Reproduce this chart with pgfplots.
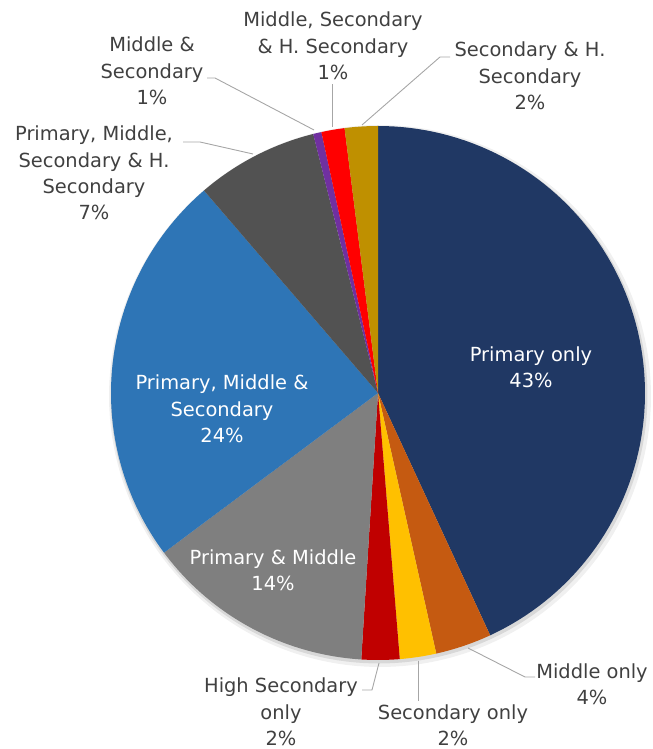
\documentclass[border=0pt]{standalone}
\usepackage{pgfplots}
\pgfplotsset{compat=1.18}
\usepackage{fontspec}
\setmainfont{DejaVu Sans}
\definecolor{cNavy}{HTML}{203864}
\definecolor{cOrange}{HTML}{C55A11}
\definecolor{cYellow}{HTML}{FFC000}
\definecolor{cDRed}{HTML}{C00000}
\definecolor{cGray}{HTML}{7F7F7F}
\definecolor{cBlue}{HTML}{2E75B6}
\definecolor{cDGray}{HTML}{525252}
\definecolor{cPurple}{HTML}{7030A0}
\definecolor{cRed}{HTML}{FF0000}
\definecolor{cGold}{HTML}{BF9000}
\definecolor{txt}{HTML}{404040}
\definecolor{lead}{HTML}{A6A6A6}
% shares in percent, clockwise from 12 o'clock
\def\vA{43.1}% Primary only
\def\vB{3.4}% Middle only
\def\vC{2.2}% Secondary only
\def\vD{2.3}% High Secondary only
\def\vE{13.8}% Primary & Middle
\def\vF{23.9}% Primary, Middle & Secondary
\def\vG{7.4}% Primary, Middle, Secondary & H. Secondary
\def\vH{0.5}% Middle & Secondary
\def\vI{1.4}% Middle, Secondary & H. Secondary
\def\vJ{2.0}% Secondary & H. Secondary
\def\cx{378}
\def\cy{356}
\def\rr{267}
\newcommand{\slice}[3]{%
  \addplot[fill=#3, draw=none, domain=#1:#2, samples=90, variable=\t]
    ({\cx+\rr*sin(\t)},{\cy+\rr*cos(\t)}) -- (axis cs:\cx,\cy) -- cycle;}
\tikzset{lbl/.style={font=\fontsize{19.5}{26.5}\selectfont, align=center, text=txt, inner sep=0pt}}
\begin{document}%
\pgfmathsetmacro\aA{0}%
\pgfmathsetmacro\aB{\aA+3.6*\vA}%
\pgfmathsetmacro\aC{\aB+3.6*\vB}%
\pgfmathsetmacro\aD{\aC+3.6*\vC}%
\pgfmathsetmacro\aE{\aD+3.6*\vD}%
\pgfmathsetmacro\aF{\aE+3.6*\vE}%
\pgfmathsetmacro\aG{\aF+3.6*\vF}%
\pgfmathsetmacro\aH{\aG+3.6*\vG}%
\pgfmathsetmacro\aI{\aH+3.6*\vH}%
\pgfmathsetmacro\aJ{\aI+3.6*\vI}%
\pgfmathsetmacro\aK{\aJ+3.6*\vJ}%
\begin{tikzpicture}
\begin{axis}[
  hide axis, scale only axis, width=653bp, height=749bp,
  xmin=0, xmax=653, ymin=0, ymax=749, clip=false,
]
\addplot[draw=none, forget plot] coordinates {(0,0) (653,749)};
% soft shadow
\addplot[fill=black, fill opacity=0.06, draw=none, domain=0:360, samples=180, variable=\t]
  ({\cx+2+(\rr+4)*sin(\t)},{\cy-3+(\rr+4)*cos(\t)}) -- cycle;
\addplot[fill=black, fill opacity=0.10, draw=none, domain=0:360, samples=180, variable=\t]
  ({\cx+1+(\rr+1.5)*sin(\t)},{\cy-2+(\rr+1.5)*cos(\t)}) -- cycle;
\slice{\aA}{\aB}{cNavy}
\slice{\aB}{\aC}{cOrange}
\slice{\aC}{\aD}{cYellow}
\slice{\aD}{\aE}{cDRed}
\slice{\aE}{\aF}{cGray}
\slice{\aF}{\aG}{cBlue}
\slice{\aG}{\aH}{cDGray}
\slice{\aH}{\aI}{cPurple}
\slice{\aI}{\aJ}{cRed}
\slice{\aJ}{\aK}{cGold}
% inside labels
\node[lbl, text=white] at (axis cs:531,382) {Primary only\\43\%};
\node[lbl, text=white] at (axis cs:222,340) {Primary, Middle \&\\Secondary\\24\%};
\node[lbl, text=white] at (axis cs:273,179) {Primary \& Middle\\14\%};
% leader lines
\draw[lead, line width=0.9pt] (axis cs:468,101) -- (axis cs:525,72) -- (axis cs:535,72);
\draw[lead, line width=0.9pt] (axis cs:418,88) -- (axis cs:418,48);
\draw[lead, line width=0.9pt] (axis cs:379,86) -- (axis cs:372,59) -- (axis cs:362,59);
\draw[lead, line width=0.9pt] (axis cs:314,619) -- (axis cs:215,671) -- (axis cs:207,671);
\draw[lead, line width=0.9pt] (axis cs:253,595) -- (axis cs:200,607) -- (axis cs:183,607);
\draw[lead, line width=0.9pt] (axis cs:332,622) -- (axis cs:332,665);
\draw[lead, line width=0.9pt] (axis cs:362,624) -- (axis cs:440,692) -- (axis cs:450,692);
% outside labels
\node[lbl] at (axis cs:592,64.5) {Middle only\\4\%};
\node[lbl] at (axis cs:453,24) {Secondary only\\2\%};
\node[lbl] at (axis cs:281,37) {High Secondary\\only\\2\%};
\node[lbl] at (axis cs:152,678) {Middle \&\\Secondary\\1\%};
\node[lbl] at (axis cs:94,576) {Primary, Middle,\\Secondary \& H.\\Secondary\\7\%};
\node[lbl] at (axis cs:333,703) {Middle, Secondary\\\& H. Secondary\\1\%};
\node[lbl] at (axis cs:530,673) {Secondary \& H.\\Secondary\\2\%};
\end{axis}
\end{tikzpicture}%
\end{document}
